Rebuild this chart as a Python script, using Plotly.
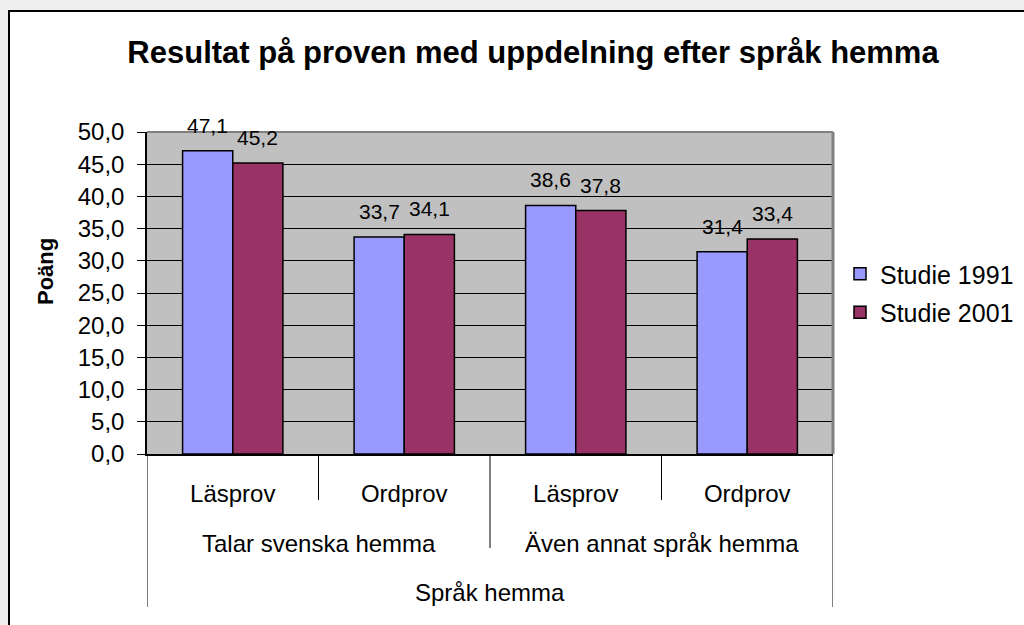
import plotly.graph_objects as go

# ---- data ----
title_text = "Resultat på proven med uppdelning efter språk hemma"
top_level = "Språk hemma"
group_labels = ["Talar svenska hemma", "Även annat språk hemma"]
inner_labels = ["Läsprov", "Ordprov", "Läsprov", "Ordprov"]
group_index = [0, 0, 1, 1]
series_names = ["Studie 1991", "Studie 2001"]
studie_1991 = [47.1, 33.7, 38.6, 31.4]
studie_2001 = [45.2, 34.1, 37.8, 33.4]
y_ticks = [0, 5, 10, 15, 20, 25, 30, 35, 40, 45, 50]
y_title = "Poäng"

# ---- layout constants (pixels) ----
W, H = 1024, 625
L, R, T, B = 147, 833, 132, 454
pw, ph = R - L, B - T

def px_x(p):
    return (p - L) / pw

def px_y(p):
    return (B - p) / ph

colors = ["#9999FF", "#993366"]
FONT = "Arial, Liberation Sans, sans-serif"
AX_SIZE = 24
LBL_SIZE = 21

idx = list(range(len(inner_labels)))

fig = go.Figure()
for name, vals, col in zip(series_names, [studie_1991, studie_2001], colors):
    fig.add_trace(go.Bar(
        x=idx, y=vals, name=name, legendgroup=name,
        marker=dict(color=col, line=dict(color="black", width=1.5)),
        hoverinfo="y",
    ))

annotations = []
half_bar = 25
for s, vals in enumerate([studie_1991, studie_2001]):
    for i, v in zip(idx, vals):
        annotations.append(dict(
            x=i, y=v, xref="x", yref="y", text=f"{v:.1f}".replace(".", ","),
            showarrow=False, xanchor="center", yanchor="bottom",
            xshift=(-half_bar if s == 0 else half_bar), yshift=12,
            font=dict(family=FONT, size=LBL_SIZE, color="black"),
        ))

# group labels
for g, lab in enumerate(group_labels):
    members = [i for i in idx if group_index[i] == g]
    annotations.append(dict(
        x=sum(members) / len(members), y=px_y(543), xref="x", yref="paper",
        text=lab, showarrow=False, xanchor="center", yanchor="middle",
        font=dict(family=FONT, size=AX_SIZE, color="black"),
    ))
annotations.append(dict(
    x=(idx[0] + idx[-1]) / 2, y=px_y(592), xref="x", yref="paper",
    text=top_level, showarrow=False, xanchor="center", yanchor="middle",
    font=dict(family=FONT, size=AX_SIZE, color="black"),
))
# y-axis title
annotations.append(dict(
    x=px_x(45), y=px_y(272), xref="paper", yref="paper",
    text=f"<b>{y_title}</b>", textangle=-90, showarrow=False,
    xanchor="center", yanchor="middle",
    font=dict(family=FONT, size=22, color="black"),
))

shapes = []
# chart area (white with black border)
shapes.append(dict(type="rect", xref="paper", yref="paper", layer="below",
                   x0=px_x(9), x1=px_x(W + 20), y0=px_y(H + 20), y1=px_y(11),
                   fillcolor="white", line=dict(color="black", width=2)))
# plot area background
shapes.append(dict(type="rect", xref="paper", yref="paper", layer="below",
                   x0=0, x1=1, y0=0, y1=1, fillcolor="#C0C0C0",
                   line=dict(width=0)))
# plot border top/right (gray)
shapes.append(dict(type="line", xref="paper", yref="paper", x0=0, x1=1, y0=1, y1=1,
                   line=dict(color="#808080", width=2)))
shapes.append(dict(type="line", xref="paper", yref="paper", x0=1, x1=1, y0=0, y1=1,
                   line=dict(color="#808080", width=3)))

# category separators
bounds = [idx[0] - 0.5] + [i + 0.5 for i in idx]
for k, bx in enumerate(bounds):
    if k == 0 or k == len(bounds) - 1:
        yb = px_y(607)
    else:
        left, right = group_index[k - 1], group_index[k]
        yb = px_y(500) if left == right else px_y(548)
    shapes.append(dict(type="line", xref="x", yref="paper", x0=bx, x1=bx,
                       y0=0, y1=yb, line=dict(color="black", width=1)))

fig.update_layout(
    width=W, height=H,
    margin=dict(l=L, r=W - R, t=T, b=H - B, autoexpand=False),
    paper_bgcolor="#EFEFEF", plot_bgcolor="rgba(0,0,0,0)",
    separators=",.",
    barmode="group", bargap=0.415, bargroupgap=0,
    font=dict(family=FONT, size=AX_SIZE, color="black"),
    title=dict(text=f"<b>{title_text}</b>", x=533 / W, xanchor="center",
               y=1 - 52 / H, yanchor="middle", yref="container",
               font=dict(family=FONT, size=31, color="black")),
    showlegend=True,
    legend=dict(x=px_x(840), y=px_y(251), xanchor="left", yanchor="top",
                bgcolor="rgba(0,0,0,0)", font=dict(family=FONT, size=25),
                tracegroupgap=3, itemclick=False),
    annotations=annotations,
    shapes=shapes,
)
fig.update_xaxes(
    range=[idx[0] - 0.5, idx[-1] + 0.5], tickvals=idx, ticktext=inner_labels,
    showline=True, linecolor="black", linewidth=1.5, ticks="",
    showgrid=False, zeroline=False, ticklabelstandoff=17,
    tickfont=dict(family=FONT, size=AX_SIZE),
)
fig.update_yaxes(
    range=[0, 50], tickvals=y_ticks, tickformat=".1f",
    showline=True, linecolor="black", linewidth=1.5,
    ticks="outside", ticklen=8, tickcolor="black",
    showgrid=True, gridcolor="black", gridwidth=1, zeroline=False,
    ticklabelstandoff=8,
    tickfont=dict(family=FONT, size=AX_SIZE),
)

fig.write_html(
    "out.html",
    config={"displayModeBar": False},
    post_script="document.body.style.margin='0';document.body.style.background='#EFEFEF';",
)
